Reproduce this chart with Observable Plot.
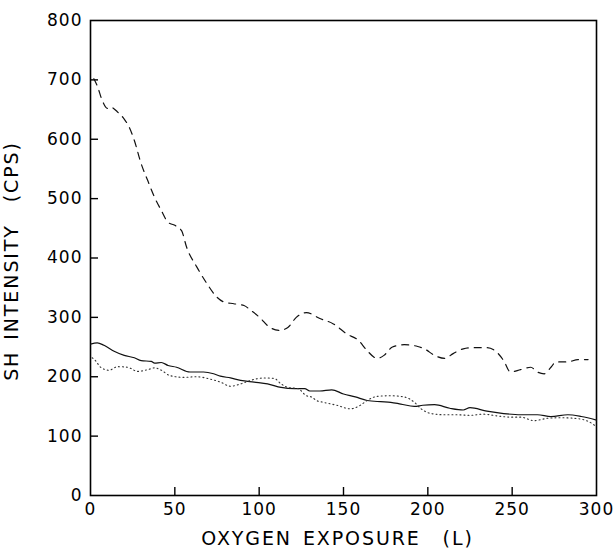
<!DOCTYPE html>
<html><head><meta charset="utf-8">
<script src="https://cdn.jsdelivr.net/npm/d3@7"></script>
<script src="https://cdn.jsdelivr.net/npm/@observablehq/plot@0.6"></script>
<style>
html,body{margin:0;padding:0;background:#fff}
svg text{letter-spacing:1px}
.title text{letter-spacing:1.9px;word-spacing:3px}
</style>
</head><body><div id="chart"></div>
<script>
// Dashed series
const dashedX = [2,4,7,10,12,16,20,23,26,30,34,38,42,46,50,54,57,63,69,75,79,85,91,95,101,105,112,117,122,128,136,144,152,159,164,170,174,179,186,194,198,204,210,215,221,227,235,241,245,249,255,261,265,269,273,276,283,289,295];
const dashedY = [702,690,665,652,654,646,634,620,598,559,530,502,480,460,455,446,418,385,357,334,326,323,320,312,298,286,278,283,300,308,298,289,272,261,244,231,236,250,254,251,247,236,231,239,247,249,249,241,227,208,212,216,208,205,216,225,225,229,229];
// Solid series
const solidX = [0,4,8,14,20,26,30,36,38,42,46,51,59,67,73,77,83,89,97,105,113,121,127,130,136,143,150,157,164,172,178,184,192,197,204,213,221,225,235,245,255,265,273,283,291,300];
const solidY = [255,257,253,243,236,232,227,226,223,224,219,216,208,208,205,201,198,194,191,188,182,180,180,176,176,178,171,166,160,158,157,154,150,152,153,147,144,148,142,138,136,136,133,136,133,127];
// Dotted series
const dottedX = [1,3,6,11,16,22,28,34,38,42,47,55,63,71,77,83,89,95,103,109,113,117,123,128,131,134,138,146,154,160,164,170,178,186,192,196,202,210,217,225,233,241,249,255,263,271,279,287,295,299];
const dottedY = [232,227,216,211,217,216,209,212,215,211,202,199,200,196,191,184,188,194,198,197,188,182,180,168,166,160,157,152,146,152,160,167,168,166,157,146,138,136,136,135,137,134,132,132,126,130,131,130,125,118];

const xTicks = [0,50,100,150,200,250,300];
const yTicks = [0,100,200,300,400,500,600,700,800];
const xTitle = "OXYGEN EXPOSURE\u00a0\u00a0(L)";
const yTitle = "SH INTENSITY\u00a0\u00a0(CPS)";

const toRows = (xs, ys) => xs.map((x, i) => ({x, y: ys[i]}));
const dashed = toRows(dashedX, dashedY);
const solid = toRows(solidX, solidY);
const dotted = toRows(dottedX, dottedY);
const innerX = xTicks.slice(1, -1);
const innerY = yTicks.slice(1, -1);

const W = 616, H = 548, ML = 90, MR = 20, MT = 20, MB = 53;
const TICK = 8;
const xDom = [0, 300], yDom = [0, 800];
// tick length (pixels) expressed in data units of each scale
const tickLenX = TICK * (xDom[1] - xDom[0]) / (W - ML - MR);
const tickLenY = TICK * (yDom[1] - yDom[0]) / (H - MT - MB);

const chart = Plot.plot({
  width: W,
  height: H,
  marginLeft: ML,
  marginRight: MR,
  marginTop: MT,
  marginBottom: MB,
  x: {domain: xDom},
  y: {domain: yDom},
  style: {fontFamily: "DejaVu Sans", fontSize: "17px", color: "#000", background: "#fff"},
  marks: [
    Plot.frame({stroke: "#000", strokeWidth: 1.6}),
    // inward tick marks
    Plot.ruleX(innerX, {x: d => d, y1: yDom[0], y2: yDom[0] + tickLenY, stroke: "#000", strokeWidth: 1.4}),
    Plot.ruleY(innerY, {y: d => d, x1: xDom[0], x2: xDom[0] + tickLenX, stroke: "#000", strokeWidth: 1.4}),
    // tick labels
    Plot.axisX({ticks: xTicks, tickSize: 0, tickPadding: 7, label: null}),
    Plot.axisY({ticks: yTicks, tickSize: 0, tickPadding: 8, label: null}),
    Plot.line(dashed, {x: "x", y: "y", stroke: "#111", strokeWidth: 1.2, strokeDasharray: "7,6", curve: "monotone-x"}),
    Plot.line(solid, {x: "x", y: "y", stroke: "#111", strokeWidth: 1.2, curve: "monotone-x"}),
    Plot.line(dotted, {x: "x", y: "y", stroke: "#333", strokeWidth: 1.1, strokeDasharray: "1,3", curve: "monotone-x"}),
    Plot.text([xTitle], {frameAnchor: "bottom", dy: 43, dx: -6, lineAnchor: "middle", textAnchor: "middle", fontSize: 19, fill: "#000", className: "title"}),
    Plot.text([yTitle], {frameAnchor: "left", dx: -79, dy: 3, rotate: -90, lineAnchor: "middle", textAnchor: "middle", fontSize: 19, fill: "#000", className: "title"})
  ]
});
document.getElementById("chart").appendChild(chart);
</script>
</body></html>
